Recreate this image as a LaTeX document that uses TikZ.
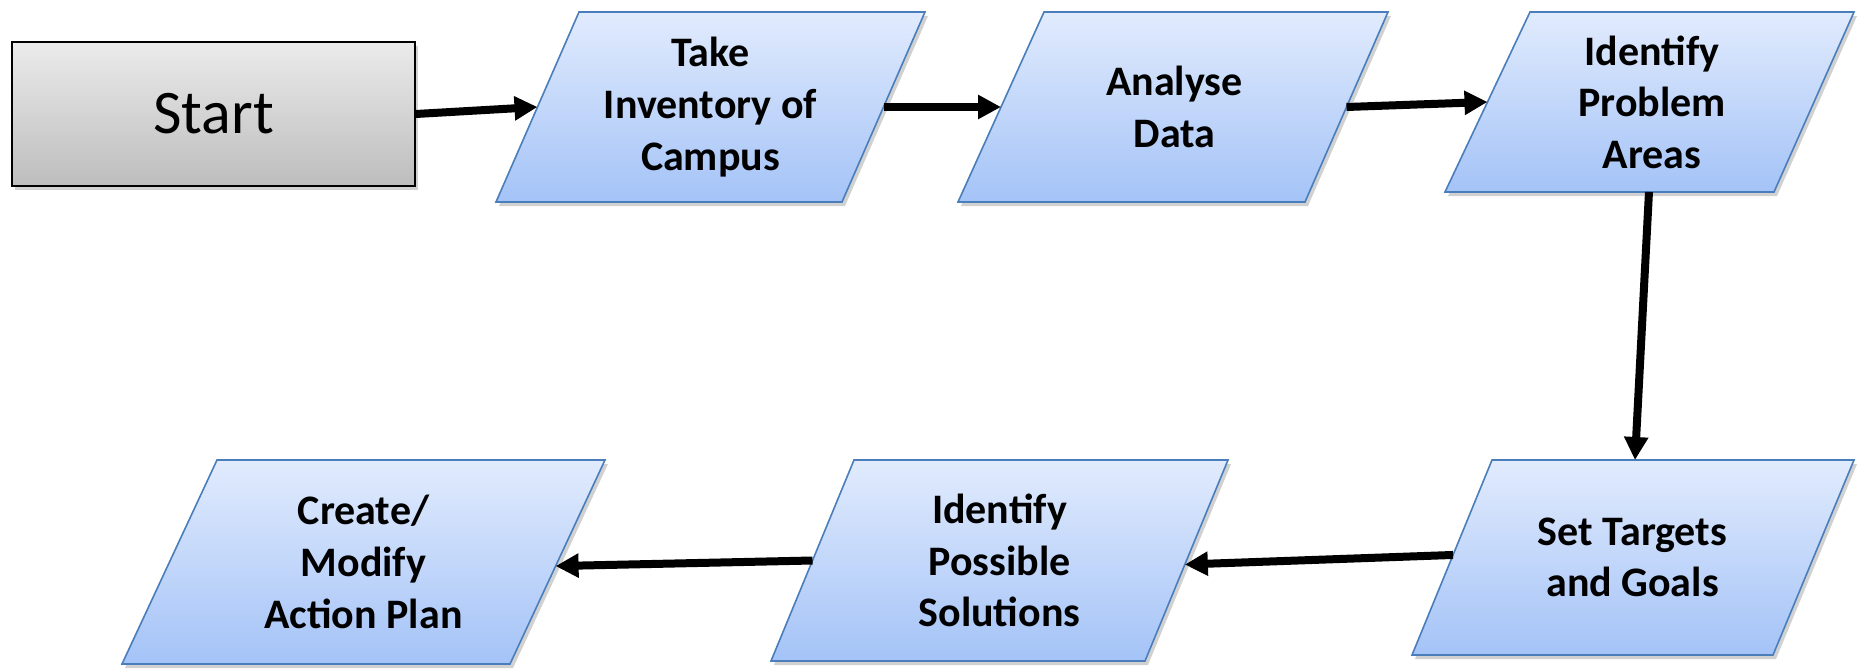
\documentclass[tikz,border=0pt]{standalone}
\usepackage{fontspec}
\setmainfont{Carlito}
\usetikzlibrary{arrows.meta,calc}
\definecolor{paratop}{HTML}{E1EBFD}
\definecolor{parabot}{HTML}{A4C3F7}
\definecolor{paraborder}{HTML}{4A7EBB}
\definecolor{starttop}{HTML}{EBEBEB}
\definecolor{startbot}{HTML}{BDBDBD}
\newcommand\myparal[8]{%
  \coordinate (#1-tl) at (#2,#6);
  \coordinate (#1-tr) at (#3,#6);
  \coordinate (#1-br) at (#5,#7);
  \coordinate (#1-bl) at (#4,#7);
  \fill[shadowc] ($(#1-tl)+(3,4)$) -- ($(#1-tr)+(3,4)$) -- ($(#1-br)+(3,4)$) -- ($(#1-bl)+(3,4)$) -- cycle;
  \path[parafill] (#1-tl) -- (#1-tr) -- (#1-br) -- (#1-bl) -- cycle;
  \node[paratext] (#1) at ($(#1-tl)!0.5!(#1-br)$) {#8};
}
\begin{document}
\begin{tikzpicture}[x=0.5pt,y=-0.5pt,
  parafill/.style={draw=paraborder,line width=0.8pt,top color=paratop,bottom color=parabot},
  shadowc/.style={black,opacity=0.18},
  paratext/.style={align=center,font=\bfseries\fontsize{21}{25.8}\selectfont,inner sep=0pt},
  startbox/.style={draw=black,line width=0.9pt,top color=starttop,bottom color=startbot,
    minimum width=201.5pt,minimum height=72pt,inner sep=0pt,font=\fontsize{31}{37}\selectfont},
  arr/.style={line width=4pt,-{Triangle[length=11.5pt,width=11.5pt]}}]
\useasboundingbox (0,0) rectangle (1860,669);
% start box
\fill[shadowc] (15,46) rectangle (418,190);
\node[startbox] (start) at (213.5,114) {Start};
% parallelograms
\myparal{take}{579}{925}{496}{842}{12}{202}{Take\\Inventory of\\Campus}
\myparal{analyse}{1044}{1388}{958}{1305}{12}{202}{Analyse\\Data}
\myparal{ident}{1530}{1854}{1445}{1774}{12}{192}{Identify\\Problem\\Areas}
\myparal{set}{1492}{1854}{1412}{1773}{460}{655}{Set Targets\\and Goals}
\myparal{poss}{854}{1228}{771}{1145}{460}{661}{Identify\\Possible\\Solutions}
\myparal{create}{217}{605}{122}{510}{460}{664}{Create/\\Modify\\Action Plan}
% connectors
\draw[arr] (start.east) -- ($(take-tl)!0.5!(take-bl)$);
\draw[arr] ($(take-tr)!0.5!(take-br)$) -- ($(analyse-tl)!0.5!(analyse-bl)$);
\draw[arr] ($(analyse-tr)!0.5!(analyse-br)$) -- ($(ident-tl)!0.5!(ident-bl)$);
\draw[arr] ($(ident-bl)!0.62!(ident-br)$) -- ($(set-tl)!0.395!(set-tr)$);
\draw[arr] ($(set-tl)!0.487!(set-bl)$) -- ($(poss-tr)!0.52!(poss-br)$);
\draw[arr] ($(poss-tl)!0.5!(poss-bl)$) -- ($(create-tr)!0.52!(create-br)$);
\end{tikzpicture}
\end{document}
